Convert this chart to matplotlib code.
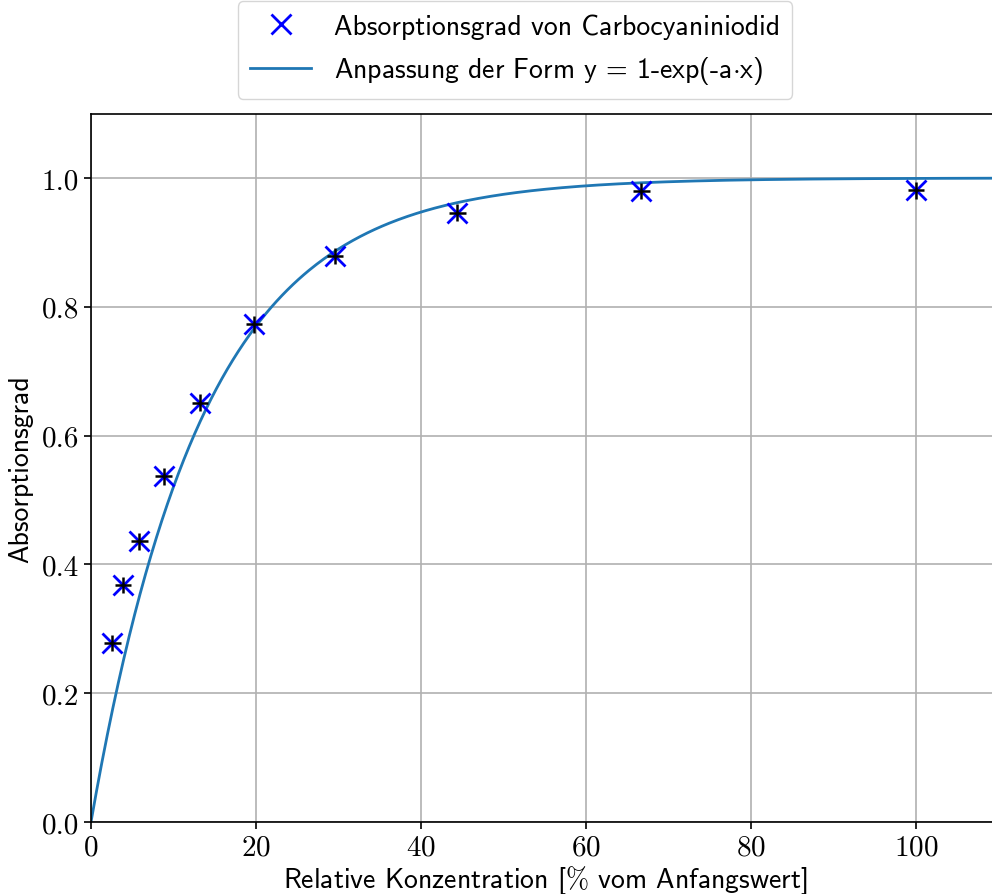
import matplotlib
matplotlib.use('Agg')

import matplotlib.pyplot as plt
import numpy as np

# relative concentration [% of start value] and measured absorption
konz = [2.6, 3.9, 5.85, 8.8, 13.2, 19.75, 29.6, 44.4, 66.7, 100.0]
absorption = [0.278, 0.368, 0.436, 0.537, 0.651, 0.773, 0.879, 0.946, 0.980, 0.981]
konz_err = [1.0] * len(konz)
abs_err = [0.013] * len(konz)

# fit parameter for y = 1 - exp(-a x)
a_fit = 0.0735

plt.rcParams['font.family'] = 'cmr10'
plt.rcParams['mathtext.fontset'] = 'cm'
plt.rcParams['axes.formatter.use_mathtext'] = True

fig = plt.figure(figsize=(9.92, 8.95), dpi=100)
ax = fig.add_axes([91 / 992, 72 / 895, 907.5 / 992, 708.4 / 895])

ax.plot(
    konz,
    absorption,
    'x',
    color='blue',
    markersize=15,
    markeredgewidth=2,
    label='Absorptionsgrad von Carbocyaniniodid',
    zorder=3,
)

ax.errorbar(
    konz,
    absorption,
    xerr=konz_err,
    yerr=abs_err,
    fmt='none',
    ecolor='black',
    elinewidth=1.8,
    zorder=4,
)

xs = np.linspace(0, 110, 500)
ax.plot(
    xs,
    1 - np.exp(-a_fit * xs),
    color='#1f77b4',
    linewidth=2,
    label='Anpassung der Form y = 1-exp(-a$\\cdot$x)',
    zorder=2,
)

ax.set_xlim(0, 110)
ax.set_ylim(0, 1.1)
ax.set_xticks([0, 20, 40, 60, 80, 100])
ax.set_yticks([0.0, 0.2, 0.4, 0.6, 0.8, 1.0])
ax.set_yticklabels(['0.0', '0.2', '0.4', '0.6', '0.8', '1.0'])
ax.tick_params(labelsize=21, width=1.2, length=5)
ax.grid(True, color='#b0b0b0', linewidth=1.2)
ax.set_axisbelow(True)
for s in ax.spines.values():
    s.set_linewidth(1.2)

ax.set_xlabel('Relative Konzentration [$\\%$ vom Anfangswert]', family='cmss10', fontsize=20, labelpad=2)
ax.set_ylabel('Absorptionsgrad', family='cmss10', fontsize=20, labelpad=6)

leg = ax.legend(
    loc='upper center',
    bbox_to_anchor=(515 / 992, 1 - 2 / 895),
    bbox_transform=fig.transFigure,
    borderaxespad=0,
    prop={'family': 'cmss10', 'size': 20},
    handlelength=2.2,
    borderpad=0.45,
    labelspacing=0.55,
)

fig.savefig('out.png', dpi=100)
